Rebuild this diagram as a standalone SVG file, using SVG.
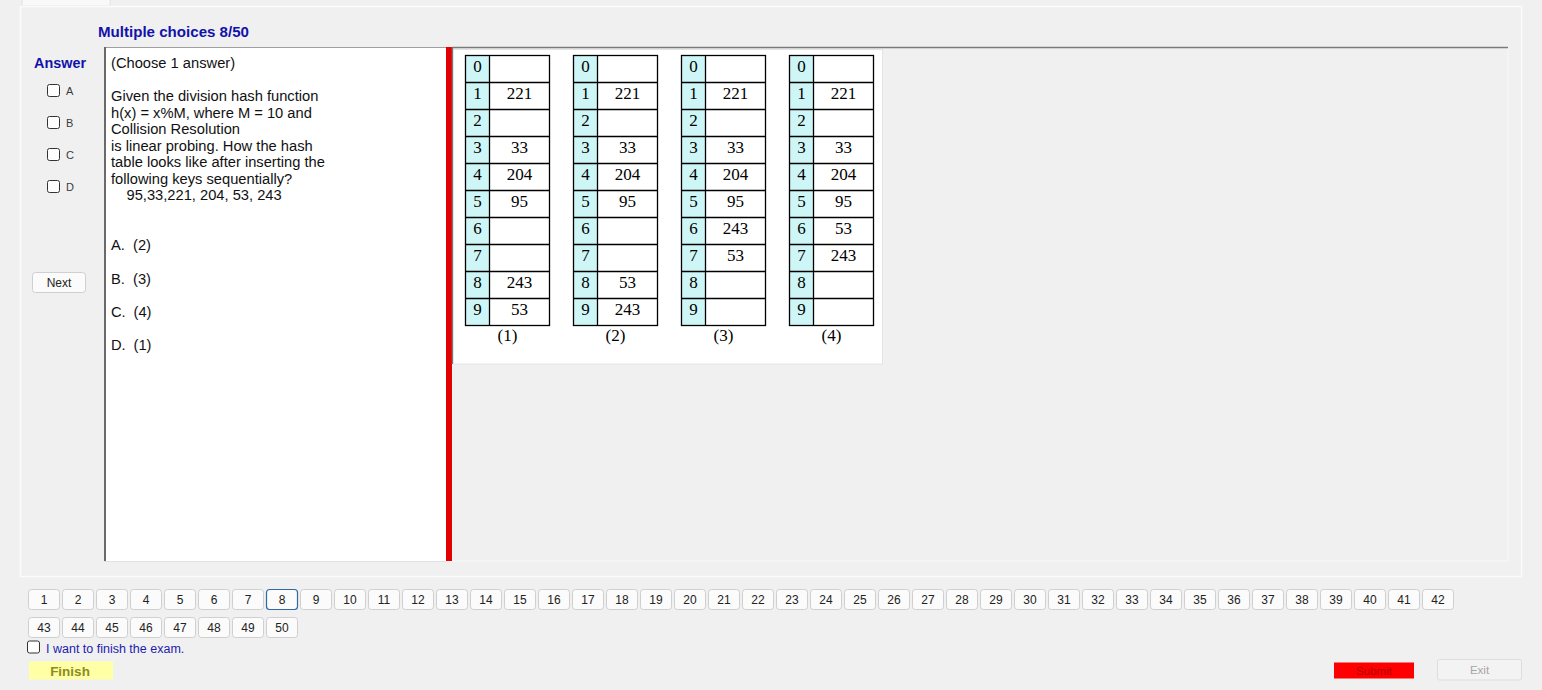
<svg xmlns="http://www.w3.org/2000/svg" xmlns:xlink="http://www.w3.org/1999/xlink" width="1542" height="690" viewBox="0 0 1542 690">
<style>
.ui{font-family:"Liberation Sans",Arial,sans-serif}
.q{font-family:"Liberation Sans",Arial,sans-serif;font-size:14.7px;fill:#111111}
.hdr{font-family:"Liberation Sans",Arial,sans-serif;font-weight:bold;fill:#1212aa}
.opt{font-family:"Liberation Sans",Arial,sans-serif;font-size:11px;fill:#3a3a3a}
.cb{fill:#ffffff;stroke:#333333;stroke-width:1}
.btn{fill:#fbfbfb;stroke:#cfcfcf;stroke-width:1}
.btnsel{fill:#fbfbfb;stroke:#2f6aa8;stroke-width:1.2}
.bt{font-family:"Liberation Sans",Arial,sans-serif;font-size:12px;fill:#222222;text-anchor:middle}
.tl{stroke:#000000;stroke-width:1.3;fill:none}
.ti{font-family:"Liberation Serif","Times New Roman",serif;font-size:17px;fill:#000000;text-anchor:middle}
</style>
<defs>
<g id="grid">
<rect x="0" y="55.5" width="24" height="270" fill="#cff6f6"/>
<rect x="24" y="55.5" width="60" height="270" fill="#ffffff"/>
<rect class="tl" x="0" y="55.5" width="84" height="270"/>
<path class="tl" d="M24 55.5V325.5M0 82.5H84M0 109.5H84M0 136.5H84M0 163.5H84M0 190.5H84M0 217.5H84M0 244.5H84M0 271.5H84M0 298.5H84"/>
<g class="ti">
<text x="12" y="71.5">0</text><text x="12" y="98.5">1</text><text x="12" y="125.5">2</text><text x="12" y="152.5">3</text><text x="12" y="179.5">4</text><text x="12" y="206.5">5</text><text x="12" y="233.5">6</text><text x="12" y="260.5">7</text><text x="12" y="287.5">8</text><text x="12" y="314.5">9</text>
<text x="54" y="98.5">221</text><text x="54" y="152.5">33</text><text x="54" y="179.5">204</text><text x="54" y="206.5">95</text>
</g>
</g>
</defs>
<rect x="0" y="0" width="1542" height="690" fill="#f0f0f0"/>
<g id="frame">
<rect x="22" y="-2" width="88" height="8" fill="#f9f9f9" stroke="#e2e2e2"/>
<rect x="20.5" y="6.5" width="1501" height="570" fill="#f0f0f0" stroke="#fbfbfb" stroke-width="1.5"/>
<rect x="452" y="47" width="1056" height="514" fill="#f0f0f0" stroke="#f8f8f8" stroke-width="1"/>
<line x1="452" y1="47.5" x2="1508" y2="47.5" stroke="#7a7a7a" stroke-width="1.5"/>
</g>
<g id="header">
<text class="hdr" x="98" y="37" font-size="15.1">Multiple choices 8/50</text>
<text class="hdr" x="34" y="68" font-size="14.4">Answer</text>
</g>
<g id="answer-options">
<rect class="cb" x="47.5" y="84.5" width="12" height="12" rx="2"/><text class="opt" x="66" y="94.5">A</text>
<rect class="cb" x="47.5" y="116.5" width="12" height="12" rx="2"/><text class="opt" x="66" y="126.5">B</text>
<rect class="cb" x="47.5" y="148.5" width="12" height="12" rx="2"/><text class="opt" x="66" y="158.5">C</text>
<rect class="cb" x="47.5" y="180.5" width="12" height="12" rx="2"/><text class="opt" x="66" y="190.5">D</text>
</g>
<g id="next-button">
<rect class="btn" x="32.5" y="272.5" width="53" height="20" rx="3" stroke="#b5b5b5"/>
<text class="ui" x="59" y="287" font-size="12" fill="#222" text-anchor="middle">Next</text>
</g>
<g id="question-box">
<rect x="104" y="47" width="342" height="515" fill="#ffffff"/>
<line x1="104" y1="47.5" x2="446" y2="47.5" stroke="#a0a0a0" stroke-width="1"/>
<line x1="105" y1="47" x2="105" y2="562" stroke="#6a6a6a" stroke-width="2"/>
<line x1="104" y1="561.5" x2="446" y2="561.5" stroke="#e0e0e0" stroke-width="1"/>
<text class="q" x="111" y="67.5">(Choose 1 answer)</text>
<text class="q" x="111" y="101">Given the division hash function</text>
<text class="q" x="111" y="117.5">h(x) = x%M, where M = 10 and</text>
<text class="q" x="111" y="134">Collision Resolution</text>
<text class="q" x="111" y="150.5">is linear probing. How the hash</text>
<text class="q" x="111" y="167">table looks like after inserting the</text>
<text class="q" x="111" y="183.5">following keys sequentially?</text>
<text class="q" x="126.5" y="200">95,33,221, 204, 53, 243</text>
<text class="q" x="111" y="250">A.</text><text class="q" x="133" y="250">(2)</text>
<text class="q" x="111" y="283.5">B.</text><text class="q" x="133" y="283.5">(3)</text>
<text class="q" x="111" y="317">C.</text><text class="q" x="133.5" y="317">(4)</text>
<text class="q" x="111" y="350">D.</text><text class="q" x="133.5" y="350">(1)</text>
</g>
<g id="splitter">
<rect x="446" y="47" width="6" height="514" fill="#e30000"/>
<line x1="452.5" y1="47" x2="452.5" y2="364" stroke="#777777" stroke-width="1.5"/>
</g>
<g id="picture">
<rect x="453.5" y="49.5" width="429" height="314.5" fill="#ffffff" stroke="#e4e4e4" stroke-width="1"/>
<g id="table1" transform="translate(465.5 0)">
<use xlink:href="#grid" href="#grid"/>
<g class="ti"><text x="54" y="287.5">243</text><text x="54" y="314.5">53</text><text x="42" y="340.5">(1)</text></g>
</g>
<g id="table2" transform="translate(573.5 0)">
<use xlink:href="#grid" href="#grid"/>
<g class="ti"><text x="54" y="287.5">53</text><text x="54" y="314.5">243</text><text x="42" y="340.5">(2)</text></g>
</g>
<g id="table3" transform="translate(681.5 0)">
<use xlink:href="#grid" href="#grid"/>
<g class="ti"><text x="54" y="233.5">243</text><text x="54" y="260.5">53</text><text x="42" y="340.5">(3)</text></g>
</g>
<g id="table4" transform="translate(789.5 0)">
<use xlink:href="#grid" href="#grid"/>
<g class="ti"><text x="54" y="233.5">53</text><text x="54" y="260.5">243</text><text x="42" y="340.5">(4)</text></g>
</g>
</g>
<g id="question-nav">
<g transform="translate(28.5 589.5)">
<rect class="btn" x="0" y="0" width="31" height="20" rx="3"/><text class="bt" x="15.5" y="14.5">1</text>
<rect class="btn" x="34" y="0" width="31" height="20" rx="3"/><text class="bt" x="49.5" y="14.5">2</text>
<rect class="btn" x="68" y="0" width="31" height="20" rx="3"/><text class="bt" x="83.5" y="14.5">3</text>
<rect class="btn" x="102" y="0" width="31" height="20" rx="3"/><text class="bt" x="117.5" y="14.5">4</text>
<rect class="btn" x="136" y="0" width="31" height="20" rx="3"/><text class="bt" x="151.5" y="14.5">5</text>
<rect class="btn" x="170" y="0" width="31" height="20" rx="3"/><text class="bt" x="185.5" y="14.5">6</text>
<rect class="btn" x="204" y="0" width="31" height="20" rx="3"/><text class="bt" x="219.5" y="14.5">7</text>
<rect class="btnsel" x="238" y="0" width="31" height="20" rx="3"/><text class="bt" x="253.5" y="14.5">8</text>
<rect class="btn" x="272" y="0" width="31" height="20" rx="3"/><text class="bt" x="287.5" y="14.5">9</text>
<rect class="btn" x="306" y="0" width="31" height="20" rx="3"/><text class="bt" x="321.5" y="14.5">10</text>
<rect class="btn" x="340" y="0" width="31" height="20" rx="3"/><text class="bt" x="355.5" y="14.5">11</text>
<rect class="btn" x="374" y="0" width="31" height="20" rx="3"/><text class="bt" x="389.5" y="14.5">12</text>
<rect class="btn" x="408" y="0" width="31" height="20" rx="3"/><text class="bt" x="423.5" y="14.5">13</text>
<rect class="btn" x="442" y="0" width="31" height="20" rx="3"/><text class="bt" x="457.5" y="14.5">14</text>
<rect class="btn" x="476" y="0" width="31" height="20" rx="3"/><text class="bt" x="491.5" y="14.5">15</text>
<rect class="btn" x="510" y="0" width="31" height="20" rx="3"/><text class="bt" x="525.5" y="14.5">16</text>
<rect class="btn" x="544" y="0" width="31" height="20" rx="3"/><text class="bt" x="559.5" y="14.5">17</text>
<rect class="btn" x="578" y="0" width="31" height="20" rx="3"/><text class="bt" x="593.5" y="14.5">18</text>
<rect class="btn" x="612" y="0" width="31" height="20" rx="3"/><text class="bt" x="627.5" y="14.5">19</text>
<rect class="btn" x="646" y="0" width="31" height="20" rx="3"/><text class="bt" x="661.5" y="14.5">20</text>
<rect class="btn" x="680" y="0" width="31" height="20" rx="3"/><text class="bt" x="695.5" y="14.5">21</text>
<rect class="btn" x="714" y="0" width="31" height="20" rx="3"/><text class="bt" x="729.5" y="14.5">22</text>
<rect class="btn" x="748" y="0" width="31" height="20" rx="3"/><text class="bt" x="763.5" y="14.5">23</text>
<rect class="btn" x="782" y="0" width="31" height="20" rx="3"/><text class="bt" x="797.5" y="14.5">24</text>
<rect class="btn" x="816" y="0" width="31" height="20" rx="3"/><text class="bt" x="831.5" y="14.5">25</text>
<rect class="btn" x="850" y="0" width="31" height="20" rx="3"/><text class="bt" x="865.5" y="14.5">26</text>
<rect class="btn" x="884" y="0" width="31" height="20" rx="3"/><text class="bt" x="899.5" y="14.5">27</text>
<rect class="btn" x="918" y="0" width="31" height="20" rx="3"/><text class="bt" x="933.5" y="14.5">28</text>
<rect class="btn" x="952" y="0" width="31" height="20" rx="3"/><text class="bt" x="967.5" y="14.5">29</text>
<rect class="btn" x="986" y="0" width="31" height="20" rx="3"/><text class="bt" x="1001.5" y="14.5">30</text>
<rect class="btn" x="1020" y="0" width="31" height="20" rx="3"/><text class="bt" x="1035.5" y="14.5">31</text>
<rect class="btn" x="1054" y="0" width="31" height="20" rx="3"/><text class="bt" x="1069.5" y="14.5">32</text>
<rect class="btn" x="1088" y="0" width="31" height="20" rx="3"/><text class="bt" x="1103.5" y="14.5">33</text>
<rect class="btn" x="1122" y="0" width="31" height="20" rx="3"/><text class="bt" x="1137.5" y="14.5">34</text>
<rect class="btn" x="1156" y="0" width="31" height="20" rx="3"/><text class="bt" x="1171.5" y="14.5">35</text>
<rect class="btn" x="1190" y="0" width="31" height="20" rx="3"/><text class="bt" x="1205.5" y="14.5">36</text>
<rect class="btn" x="1224" y="0" width="31" height="20" rx="3"/><text class="bt" x="1239.5" y="14.5">37</text>
<rect class="btn" x="1258" y="0" width="31" height="20" rx="3"/><text class="bt" x="1273.5" y="14.5">38</text>
<rect class="btn" x="1292" y="0" width="31" height="20" rx="3"/><text class="bt" x="1307.5" y="14.5">39</text>
<rect class="btn" x="1326" y="0" width="31" height="20" rx="3"/><text class="bt" x="1341.5" y="14.5">40</text>
<rect class="btn" x="1360" y="0" width="31" height="20" rx="3"/><text class="bt" x="1375.5" y="14.5">41</text>
<rect class="btn" x="1394" y="0" width="31" height="20" rx="3"/><text class="bt" x="1409.5" y="14.5">42</text>
</g>
<g transform="translate(28.5 617.5)">
<rect class="btn" x="0" y="0" width="31" height="20" rx="3"/><text class="bt" x="15.5" y="14.5">43</text>
<rect class="btn" x="34" y="0" width="31" height="20" rx="3"/><text class="bt" x="49.5" y="14.5">44</text>
<rect class="btn" x="68" y="0" width="31" height="20" rx="3"/><text class="bt" x="83.5" y="14.5">45</text>
<rect class="btn" x="102" y="0" width="31" height="20" rx="3"/><text class="bt" x="117.5" y="14.5">46</text>
<rect class="btn" x="136" y="0" width="31" height="20" rx="3"/><text class="bt" x="151.5" y="14.5">47</text>
<rect class="btn" x="170" y="0" width="31" height="20" rx="3"/><text class="bt" x="185.5" y="14.5">48</text>
<rect class="btn" x="204" y="0" width="31" height="20" rx="3"/><text class="bt" x="219.5" y="14.5">49</text>
<rect class="btn" x="238" y="0" width="31" height="20" rx="3"/><text class="bt" x="253.5" y="14.5">50</text>
</g>
</g>
<g id="finish-check">
<rect class="cb" x="27.5" y="641" width="12" height="12" rx="2"/>
<text class="ui" x="46" y="652.5" font-size="12.5" fill="#1c1cb0">I want to finish the exam.</text>
</g>
<g id="finish-button">
<rect x="29" y="661.5" width="84" height="18" fill="#ffffa6"/>
<text class="ui" x="70" y="675.5" font-size="13.5" font-weight="bold" fill="#8c8c1e" text-anchor="middle">Finish</text>
</g>
<g id="submit-button">
<rect x="1334" y="662.5" width="80" height="16" fill="#ff0000"/>
<text class="ui" x="1374" y="674.5" font-size="11.5" fill="#b00000" text-anchor="middle">Submit</text>
</g>
<g id="exit-button">
<rect x="1437.5" y="659.5" width="84" height="20.5" rx="2" fill="#f3f3f3" stroke="#dddddd"/>
<text class="ui" x="1479.5" y="674" font-size="11.5" fill="#a6a6a6" text-anchor="middle">Exit</text>
</g>
</svg>
